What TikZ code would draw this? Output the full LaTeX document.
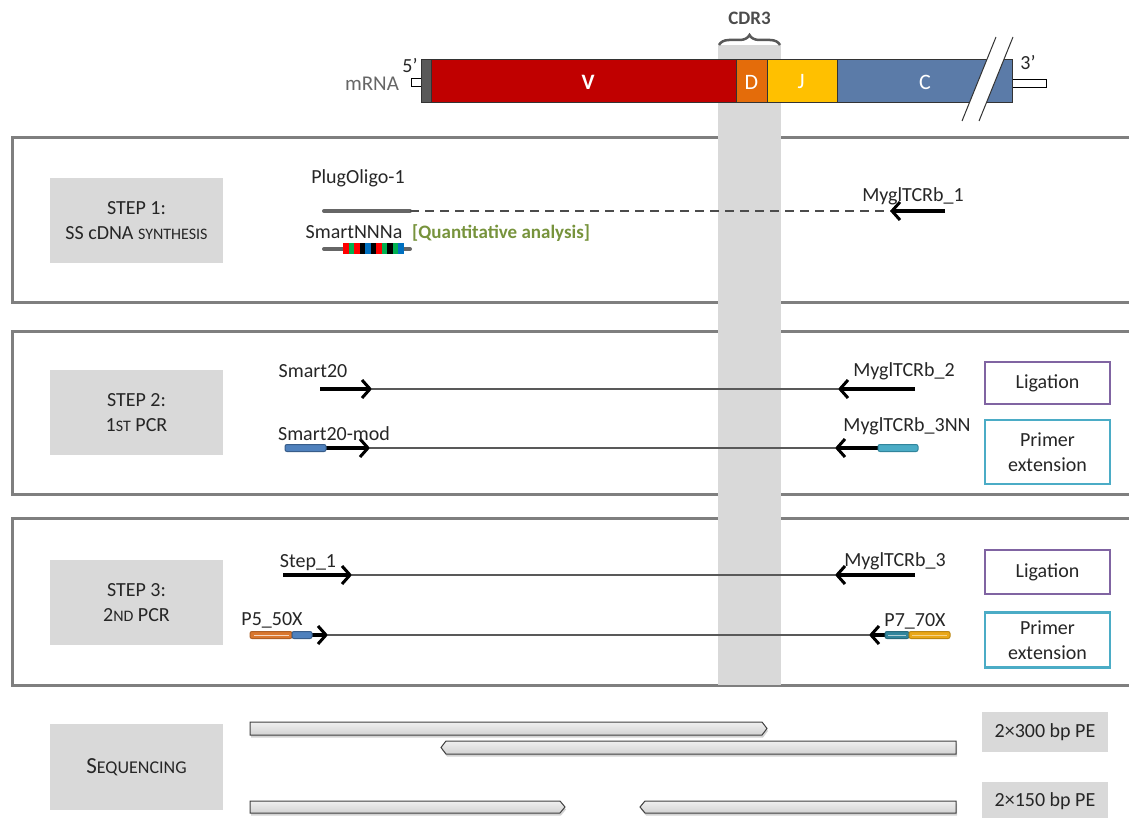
\documentclass[tikz,border=0pt]{standalone}
\usepackage{fontspec}
\setmainfont{Carlito}
\usetikzlibrary{arrows.meta,decorations.pathreplacing,shadows}
\definecolor{rnaV}{HTML}{C00000}
\definecolor{rnaD}{HTML}{E46C0A}
\definecolor{rnaJ}{HTML}{FFC000}
\definecolor{rnaC}{HTML}{5B7BA8}
\definecolor{framegray}{HTML}{7F7F7F}
\definecolor{bandgray}{HTML}{D9D9D9}
\definecolor{ligpurple}{HTML}{8064A2}
\definecolor{extteal}{HTML}{4BACC6}
\definecolor{qgreen}{HTML}{77933C}
\definecolor{barblue}{HTML}{4F81BD}
\definecolor{barblueD}{HTML}{385D8A}
\definecolor{barteal}{HTML}{31859C}
\definecolor{barorange}{HTML}{D9772F}
\definecolor{bargold}{HTML}{E9A718}
\definecolor{txt}{HTML}{262626}
\definecolor{bcgreen}{HTML}{00B050}
\definecolor{bcblue}{HTML}{0070C0}
\newcommand{\smc}[1]{{\fontsize{16}{18}\selectfont #1}}
\tikzset{
  every node/.style={text=txt, font=\fontsize{20}{24}\selectfont, inner sep=0pt},
  frame/.style={draw=framegray, line width=3pt},
  labbox/.style={fill=bandgray, minimum width=173pt, align=center, font=\fontsize{20}{25}\selectfont},
  optbox/.style={draw, line width=2.5pt, fill=white, minimum width=125pt, align=center, font=\fontsize{20}{25}\selectfont},
  primer/.style={line width=3.5pt, black, -{Straight Barb[length=8pt,width=18pt,line width=3pt]}},
  strand/.style={line width=2pt, black!65},
  tagbar/.style={rounded corners=2pt, line width=1pt},
  seqbar/.style={draw=black!75, line width=1pt, top color=gray!12, bottom color=gray!35, drop shadow={opacity=0.35, shadow xshift=1pt, shadow yshift=-2.5pt}},
  seqlab/.style={fill=bandgray, minimum width=126pt, font=\fontsize{20}{24}\selectfont},
  seg/.style={draw=black!80, line width=1pt},
  seglab/.style={text=white, font=\fontsize{22}{24}\selectfont}
}
\begin{document}
\begin{tikzpicture}[x=1pt,y=-1pt]
\useasboundingbox (0,0) rectangle (1129,818);
\clip (0,0) rectangle (1129,818);

% ---------- frames ----------
\draw[frame] (12,138) rectangle (1145,302);
\draw[frame] (12,331) rectangle (1145,494);
\draw[frame] (12,518) rectangle (1145,685);

% ---------- CDR3 band ----------
\fill[bandgray] (718,45) rectangle (781,685);
\draw[black!65, line width=2.5pt, decorate, decoration={brace, amplitude=10pt}] (719,45) -- (780,45);
\node[text=black!70, font=\fontsize{19}{21}\selectfont\bfseries] (cdr3) at (749.5,18) {CDR3};

% ---------- mRNA ----------
\draw[fill=white, line width=0.8pt] (411,78) rectangle (421,86);
\draw[fill=white, line width=0.8pt] (1012,79) rectangle (1046,87);
\draw[seg, fill=gray!70!black] (421,60) rectangle (431,103);
\draw[seg, fill=rnaV] (431,60) rectangle (736,103);
\draw[seg, fill=rnaD] (736,60) rectangle (767,103);
\draw[seg, fill=rnaJ] (767,60) rectangle (837,103);
\draw[seg, fill=rnaC] (837,60) rectangle (1012,103);
\fill[white] (996,37) -- (1013,37) -- (979,121) -- (962,121) -- cycle;
\draw[black!80, line width=1pt] (996,37) -- (962,121);
\draw[black!80, line width=1pt] (1013,37) -- (979,121);
\node[seglab, font=\fontsize{22}{24}\selectfont\bfseries] (V) at (588,82) {V};
\node[seglab] (D) at (751.5,82) {D};
\node[seglab] (J) at (801,82) {J};
\node[seglab] (C) at (925,82) {C};
\node[text=black!60, font=\fontsize{21}{24}\selectfont] (mrna) at (372,84) {mRNA};
\node (five) at (410,66) {5’};
\node (three) at (1028,63) {3’};

% ---------- label boxes ----------
\node[labbox, minimum height=85pt] (s1) at (136.5,220.5) {STEP 1:\\SS cDNA \smc{SYNTHESIS}};
\node[labbox, minimum height=85pt] (s2) at (136.5,412.5) {STEP 2:\\1\smc{ST} PCR};
\node[labbox, minimum height=85pt] (s3) at (136.5,602.5) {STEP 3:\\2\smc{ND} PCR};
\node[labbox, minimum height=86pt, font=\fontsize{23}{26}\selectfont] (s4) at (136.5,767) {S{\fontsize{18}{20}\selectfont EQUENCING}};

% ---------- step 1 ----------
\coordinate (p1a) at (324,211);
\coordinate (p1b) at (410,211);
\coordinate (r1a) at (945,211);
\coordinate (r1b) at (890,211);
\draw[line width=4pt, black!60, line cap=round] (p1a) -- (p1b);
\draw[line width=2pt, black!70, dash pattern=on 9pt off 6pt] (p1b) -- (r1b);
\draw[primer] (r1a) -- (r1b);
\node (plug) at (358,178) {PlugOligo-1};
\node (myg1) at (913,196) {MyglTCRb\_1};
\node (smart) at (354,232) {SmartNNNa};
\node[anchor=west, text=qgreen, font=\fontsize{19}{22}\selectfont\bfseries] (quant) at (412,233) {[Quantitative analysis]};
\coordinate (bca) at (324,249);
\coordinate (bcb) at (410,249);
\draw[line width=4pt, black!60, line cap=round] (bca) -- (bcb);
\foreach \c [count=\i from 0] in {red,bcgreen,red,black,bcblue,black,red,bcgreen,black,bcgreen,bcblue}
  \fill[\c] (343+\i*5.5,243.5) rectangle (348.5+\i*5.5,254.5);

% ---------- step 2 ----------
\coordinate (a2s) at (320,389);
\coordinate (a2h) at (372,389);
\coordinate (b2s) at (915,389);
\coordinate (b2h) at (838,389);
\draw[strand] (a2h) -- (b2h);
\draw[primer] (a2s) -- (a2h);
\draw[primer] (b2s) -- (b2h);
\node (sm20) at (313,371) {Smart20};
\node (myg2) at (904,371) {MyglTCRb\_2};
\node[optbox, draw=ligpurple, minimum height=42pt] (lig2) at (1047.5,383) {Ligation};

\coordinate (c2s) at (325,448);
\coordinate (c2h) at (370,448);
\coordinate (d2s) at (878,448);
\coordinate (d2h) at (835,448);
\draw[strand] (c2h) -- (d2h);
\draw[primer] (c2s) -- (c2h);
\draw[primer] (d2s) -- (d2h);
\draw[tagbar, fill=barblue, draw=barblueD] (285,444.5) rectangle (326,451.5);
\draw[tagbar, fill=extteal, draw=barteal] (878,444.5) rectangle (918,451.5);
\node (sm20m) at (334,434) {Smart20-mod};
\node (myg3nn) at (907,426) {MyglTCRb\_3NN};
\node[optbox, draw=extteal, minimum height=64pt] (ext2) at (1047.5,452) {Primer\\extension};

% ---------- step 3 ----------
\coordinate (a3s) at (283,575);
\coordinate (a3h) at (352,575);
\coordinate (b3s) at (915,575);
\coordinate (b3h) at (835,575);
\draw[strand] (a3h) -- (b3h);
\draw[primer] (a3s) -- (a3h);
\draw[primer] (b3s) -- (b3h);
\node (step1) at (308,563) {Step\_1};
\node (myg3) at (895,561) {MyglTCRb\_3};
\node[optbox, draw=ligpurple, minimum height=44pt] (lig3) at (1047.5,572) {Ligation};

\coordinate (c3s) at (311,635);
\coordinate (c3h) at (328,635);
\coordinate (d3s) at (885,635);
\coordinate (d3h) at (869,635);
\draw[strand] (c3h) -- (d3h);
\draw[primer] (c3s) -- (c3h);
\draw[primer] (d3s) -- (d3h);
\draw[tagbar, fill=barorange, draw=barorange!80!black] (250,631.5) rectangle (292,638.5);
\draw[white!70!barorange, line width=0.8pt] (254,635) -- (289,635);
\draw[tagbar, fill=barblue, draw=barblueD] (292,631.5) rectangle (312,638.5);
\draw[tagbar, fill=barteal, draw=barteal!80!black] (885,631.5) rectangle (909,638.5);
\draw[white!60!barteal, line width=0.8pt] (888,635) -- (906,635);
\draw[tagbar, fill=bargold, draw=bargold!80!black] (909,631.5) rectangle (950,638.5);
\draw[white!50!bargold, line width=0.8pt] (912,635) -- (947,635);
\node (p5) at (272,620) {P5\_50X};
\node (p7) at (915,621) {P7\_70X};
\node[optbox, draw=extteal, minimum height=55pt] (ext3) at (1047.5,640) {Primer\\extension};

% ---------- sequencing ----------
\path[seqbar] (250,722) -- (762,722) -- (767,728.5) -- (762,735) -- (250,735) -- cycle;
\path[seqbar] (446,741) -- (956,741) -- (956,754) -- (446,754) -- (441,747.5) -- cycle;
\path[seqbar] (250,801) -- (560,801) -- (565,807) -- (560,813) -- (250,813) -- cycle;
\path[seqbar] (645,801) -- (956,801) -- (956,813) -- (645,813) -- (640,807) -- cycle;
\node[seqlab, minimum height=40pt] (pe300) at (1045,732) {2×300 bp PE};
\node[seqlab, minimum height=38pt] (pe150) at (1045,801) {2×150 bp PE};
\end{tikzpicture}
\end{document}
